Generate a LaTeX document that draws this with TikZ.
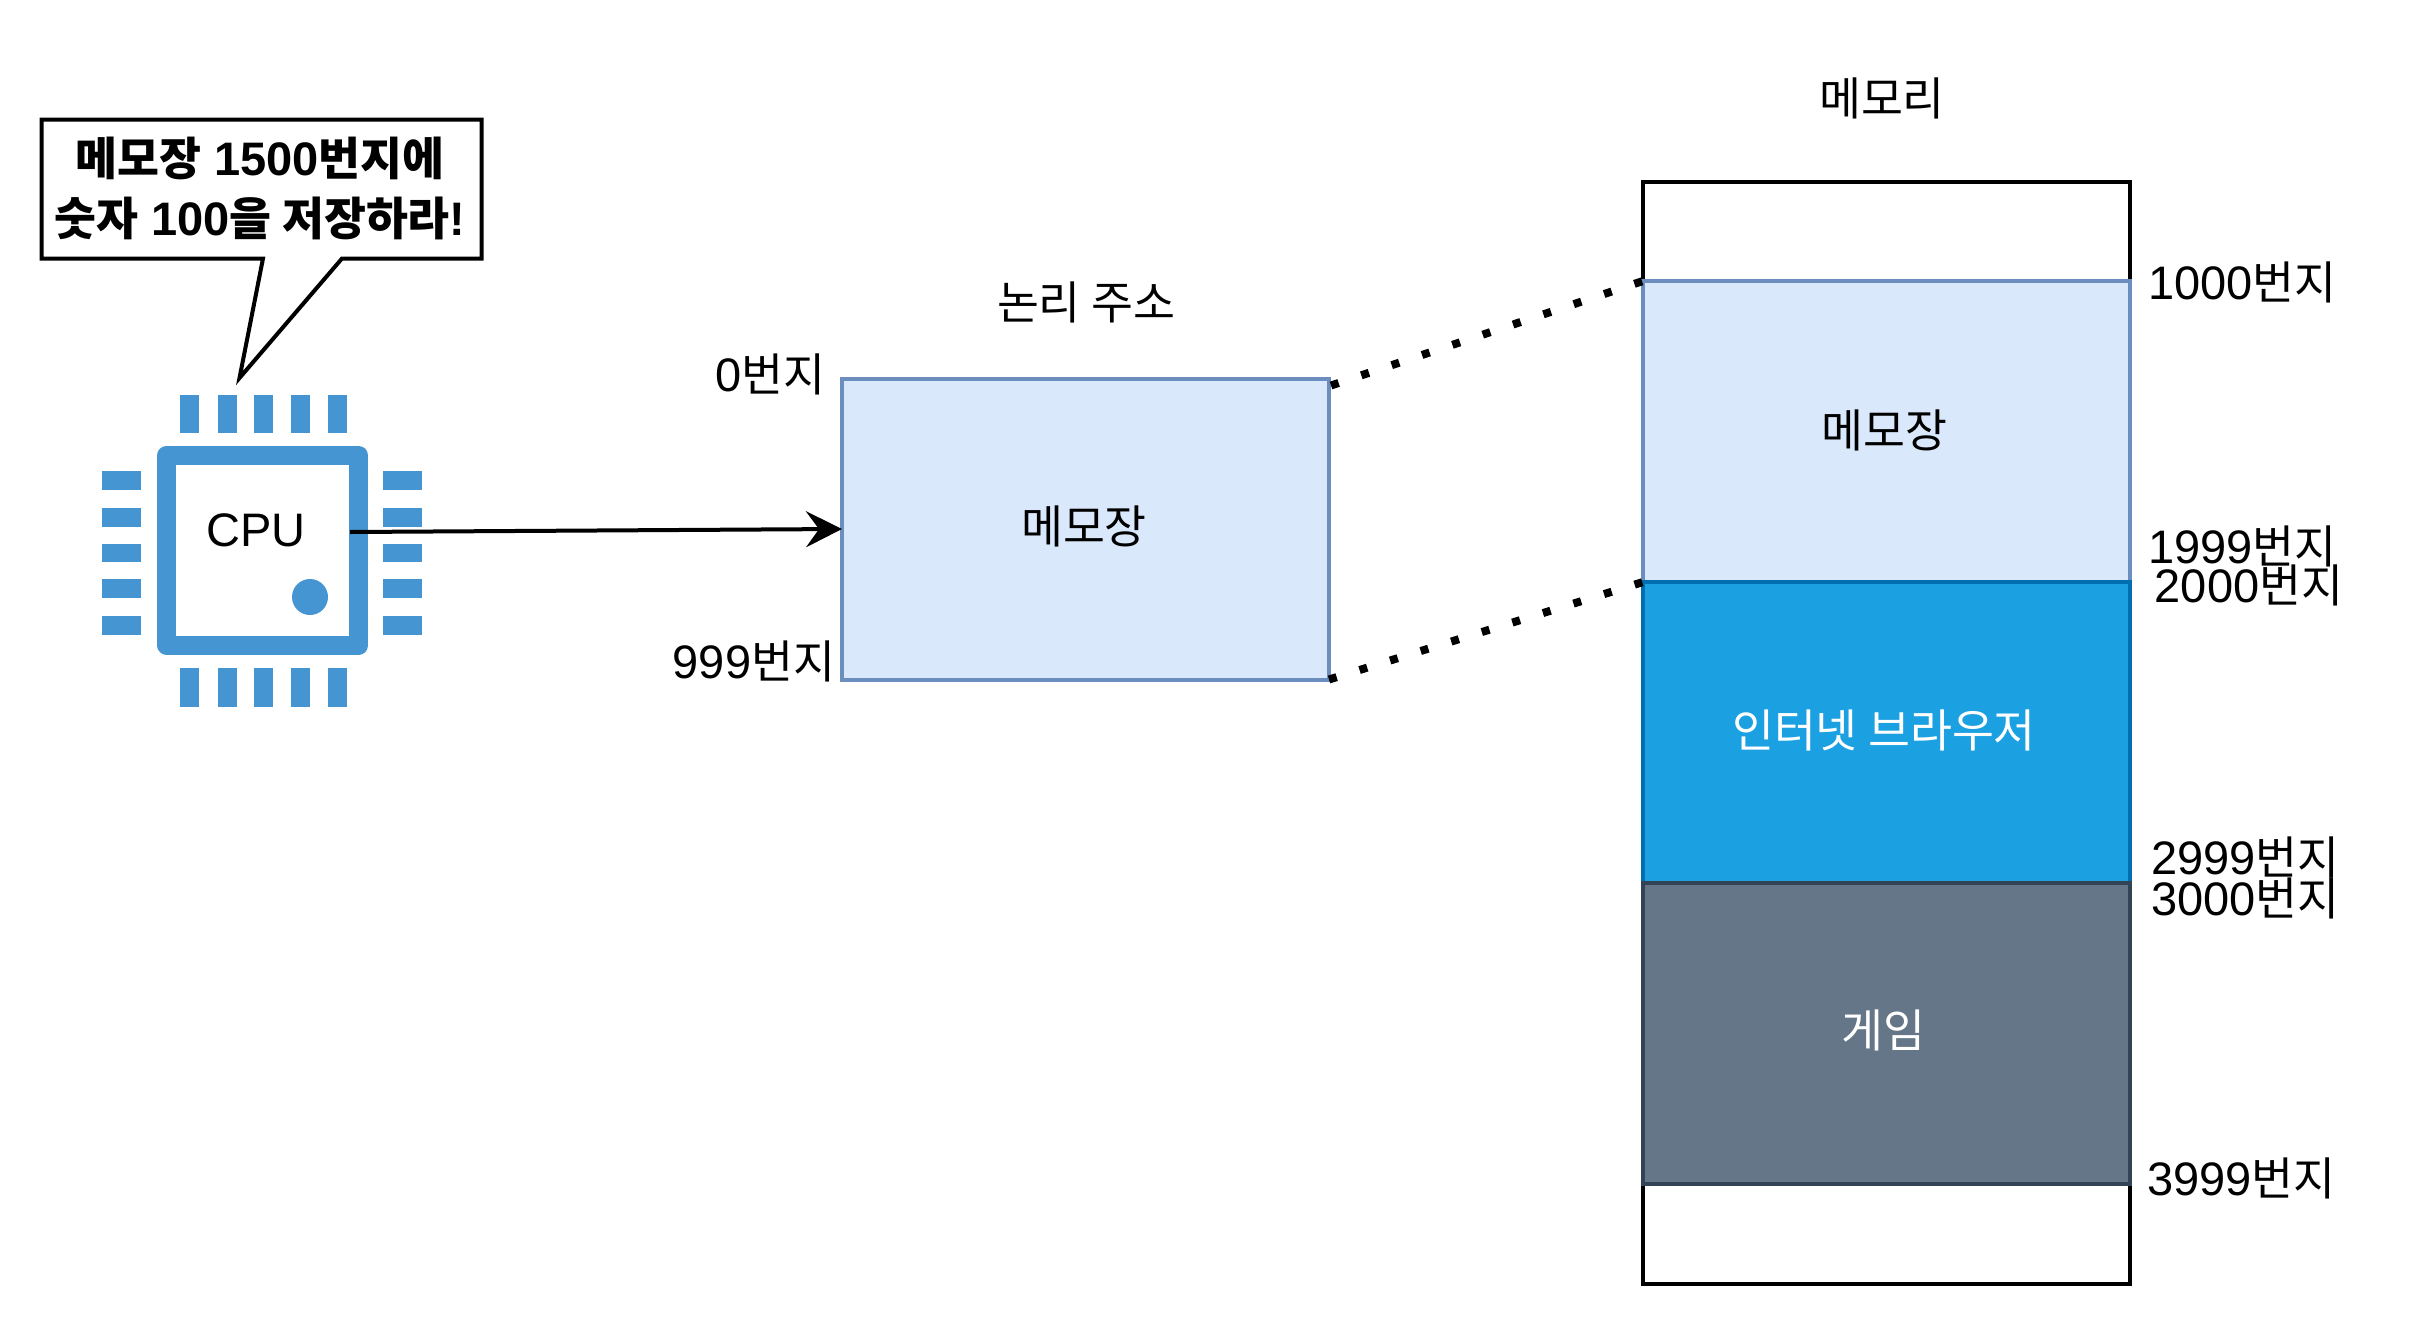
\documentclass[tikz,border=0pt]{standalone}
\usepackage{fontspec}
\usetikzlibrary{arrows.meta}
\setmainfont{Liberation Sans}
\newfontfamily\krf[Scale=0.97]{Noto Sans CJK KR}
\newcommand{\kr}[1]{{\krf #1}}
\definecolor{chipblue}{HTML}{4495D1}
\definecolor{memfill}{HTML}{DAE8FC}
\definecolor{memline}{HTML}{6C8EBF}
\definecolor{webfill}{HTML}{1BA1E2}
\definecolor{webline}{HTML}{006EAF}
\definecolor{gamefill}{HTML}{647687}
\definecolor{gameline}{HTML}{314354}
\tikzset{
 txt/.style={font=\fontsize{23.5}{28}\selectfont,inner sep=0pt,align=center,anchor=center},
 boldtxt/.style={txt,font=\fontsize{23.5}{28}\selectfont\bfseries},
 seg/.style={line width=2pt,inner sep=0pt,outer sep=0pt,minimum width=243.5pt,minimum height=150.5pt,anchor=north west},
 pin/.style={fill=chipblue,draw=none},
 dots/.style={line width=4pt,dash pattern=on 4pt off 12pt},
}
\begin{document}
\begin{tikzpicture}[x=0.5pt,y=-0.5pt]
\useasboundingbox (0,0) rectangle (2432,1328);
% outer memory
\node[draw=black,fill=white,line width=2pt,inner sep=0pt,outer sep=0pt,minimum width=243.5pt,minimum height=551pt,anchor=north west] (mem) at (1643,182) {};
\node[seg,draw=memline,fill=memfill] (notepad) at (1643,281) {};
\node[seg,draw=webline,fill=webfill] (web) at (1643,582) {};
\node[seg,draw=gameline,fill=gamefill] (game) at (1643,883) {};
\node[txt] (tnote) at (1884.5,430) {\kr{메모장}};
\node[txt,text=white] (tweb) at (1884,730) {\kr{인터넷 브라우저}};
\node[txt,text=white] (tgame) at (1883,1030) {\kr{게임}};
\node[txt] (tmem) at (1882,98) {\kr{메모리}};
% logical
\node[draw=memline,fill=memfill,line width=2pt,inner sep=0pt,outer sep=0pt,minimum width=243.5pt,minimum height=150.5pt,anchor=north west] (logical) at (842,378.5) {};
\node[txt] (tlog) at (1084,526) {\kr{메모장}};
\node[txt] (tlogt) at (1086,302) {\kr{논리 주소}};
\node[txt] (a0) at (770.5,374) {0\kr{번지}};
\node[txt] (a999) at (754,661.5) {999\kr{번지}};
\node[txt] (a1000) at (2242.5,282.5) {1000\kr{번지}};
\node[txt] (a1999) at (2242.5,546) {1999\kr{번지}};
\node[txt] (a2000) at (2249,585.5) {2000\kr{번지}};
\node[txt] (a2999) at (2245.5,857) {2999\kr{번지}};
\node[txt] (a3000) at (2245.5,898) {3000\kr{번지}};
\node[txt] (a3999) at (2241.5,1178) {3999\kr{번지}};
% chip
\node[draw=chipblue,fill=white,line width=9.5pt,line join=round,inner sep=0pt,outer sep=0pt,minimum width=96pt,minimum height=95pt] (chip) at (262.75,550.25) {};
\foreach \x in {180,218,254,290.5,328}{
  \fill[pin] (\x,395) rectangle (\x+19,432.5);
  \fill[pin] (\x,668) rectangle (\x+19,707);
}
\foreach \y in {471,508,543.5,579,616}{
  \fill[pin] (102,\y) rectangle (141,\y+18.5);
  \fill[pin] (383,\y) rectangle (422,\y+18.5);
}
\fill[chipblue] (310,597) circle (9pt);
\node[txt] (tcpu) at (256,530) {CPU};
\coordinate (cpuout) at (350,532);
\draw[line width=2pt,-{Stealth[length=18pt,width=18pt,inset=6.5pt]}] (cpuout) -- (logical.west);
% dotted
\coordinate (d1) at ([shift={(2,7)}]logical.north east);
\draw[dots] (d1) -- (notepad.north west);
\draw[dots] (logical.south east) -- (web.north west);
% callout
\draw[line width=2pt,fill=white,miter limit=20] (41.5,119.5) -- (481.5,119.5) -- (481.5,258.5) -- (342,258.5) -- (239.5,378) -- (263,258.5) -- (41.5,258.5) -- cycle;
\node[boldtxt] (call) at (260,188) {\kr{메모장} 1500\kr{번지에}\\[2pt]\kr{숫자} 100\kr{을 저장하라}!};
\end{tikzpicture}
\end{document}
